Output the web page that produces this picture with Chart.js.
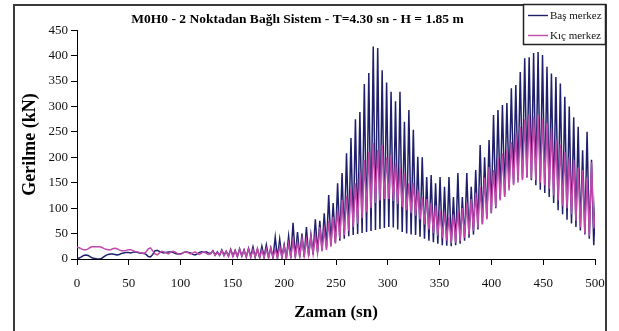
<!DOCTYPE html>
<html lang="tr">
<head>
  <meta charset="UTF-8">
  <title>M0H0 - 2 Noktadan Bağlı Sistem</title>
  <script src="https://cdn.jsdelivr.net/npm/chart.js"></script>
  <style>
    html, body { margin: 0; padding: 0; background: #fff; }
    #wrap { position: relative; width: 619px; height: 331px; }
  </style>
</head>
<body>
  <div id="wrap"><canvas id="gerilme" width="619" height="331"></canvas></div>

  <script>
    // one sample at every trough / crest, T = 4.30 sn -> half period 2.15 sn
    const halfPeriod = 2.15;

    // Baş merkez (kN)
    const basMerkez = [
      0, 2, 4, 7, 8, 7, 4, 2, 1, 0,
      0, 1, 4, 7, 9, 10, 10, 9, 8, 9,
      11, 12, 13, 13, 12, 13, 14, 13, 12, 12,
      11, 9, 5, 4, 9, 16, 17, 15, 13, 12,
      13, 14, 14, 13, 11, 10, 10, 11, 13, 14,
      13, 12, 9, 8, 10, 13, 14, 13, 14, 12,
      11, 16, 8, 14, 7, 18, 8, 15, 6, 19,
      6, 17, 5, 20, 6, 18, 4, 21, 5, 24,
      4, 19, 3, 25, 4, 28, 3, 22, 2, 43,
      2, 39, 3, 28, 1, 45, 2, 71, 3, 53,
      4, 50, 4, 63, 6, 48, 9, 78, 14, 75,
      18, 90, 22, 126, 27, 110, 31, 149, 36, 169,
      40, 208, 45, 238, 47, 275, 49, 289, 51, 344,
      53, 366, 55, 418, 57, 415, 59, 371, 61, 347,
      63, 329, 62, 310, 58, 329, 53, 270, 50, 293,
      48, 254, 47, 201, 44, 200, 40, 161, 36, 165,
      33, 149, 30, 161, 27, 142, 26, 161, 25, 122,
      27, 169, 30, 122, 36, 169, 42, 142, 48, 175,
      58, 224, 70, 200, 80, 234, 90, 283, 100, 293,
      118, 303, 125, 307, 140, 336, 148, 342, 155, 368,
      158, 395, 161, 397, 155, 405, 145, 407, 136, 401,
      130, 378, 122, 365, 110, 358, 96, 345, 88, 319,
      77, 300, 70, 279, 63, 260, 56, 214, 48, 250,
      40, 195, 27, 140
    ];

    // Kıç merkez (kN)
    const kicMerkez = [
      23, 22, 20, 18, 18, 20, 23, 24, 24, 24,
      24, 23, 21, 19, 18, 18, 20, 21, 20, 18,
      16, 16, 17, 18, 18, 17, 15, 14, 13, 12,
      11, 14, 20, 22, 16, 10, 8, 12, 15, 14,
      12, 10, 13, 15, 14, 11, 9, 10, 13, 14,
      12, 10, 12, 14, 11, 9, 12, 14, 11, 9,
      10, 16, 7, 13, 8, 17, 6, 15, 5, 18,
      5, 16, 4, 19, 5, 17, 4, 20, 3, 18,
      4, 21, 3, 17, 3, 20, 2, 22, 3, 19,
      2, 24, 3, 26, 2, 30, 3, 37, 3, 33,
      4, 40, 6, 38, 8, 44, 10, 47, 12, 63,
      15, 58, 18, 75, 24, 83, 31, 97, 40, 116,
      47, 125, 55, 140, 63, 149, 70, 170, 80, 195,
      92, 210, 100, 228, 110, 215, 115, 224, 118, 200,
      118, 205, 114, 188, 108, 180, 102, 169, 96, 149,
      90, 150, 85, 136, 78, 122, 68, 118, 58, 110,
      51, 105, 46, 96, 41, 92, 36, 83, 31, 88,
      32, 96, 35, 100, 42, 110, 48, 118, 55, 130,
      62, 142, 68, 160, 78, 181, 90, 175, 102, 200,
      115, 208, 122, 215, 135, 230, 145, 247, 150, 260,
      155, 275, 160, 283, 158, 280, 155, 283, 150, 276,
      145, 267, 138, 255, 125, 234, 115, 225, 105, 210,
      100, 200, 88, 195, 75, 180, 62, 175, 50, 160,
      45, 190, 60, 100
    ];

    const xTicks = [0, 50, 100, 150, 200, 250, 300, 350, 400, 450, 500];
    const yTicks = [0, 50, 100, 150, 200, 250, 300, 350, 400, 450];

    const toPoints = arr => arr.map((v, i) => ({ x: i * halfPeriod, y: v }));

    const serif = '"Liberation Serif", "Times New Roman", serif';

    // outer frame of the chart object
    const frame = {
      id: 'frame',
      beforeDraw(chart) {
        const c = chart.ctx;
        c.save();
        c.fillStyle = '#fff';
        c.fillRect(0, 0, chart.width, chart.height);
        c.strokeStyle = '#3a3a3a';
        c.lineWidth = 2;
        c.strokeRect(14, 5, 592, 327);
        c.restore();
      }
    };

    // boxed legend in the top right corner
    const legendBox = {
      id: 'legendBox',
      afterDraw(chart) {
        const c = chart.ctx;
        c.save();
        c.fillStyle = '#fff';
        c.fillRect(523, 5, 82, 39);
        c.strokeStyle = '#222';
        c.lineWidth = 1.5;
        c.strokeRect(523.5, 4.5, 82, 40);
        chart.data.datasets.forEach((ds, k) => {
          const y = 15 + k * 20;
          c.strokeStyle = ds.borderColor;
          c.lineWidth = 1.4;
          c.beginPath();
          c.moveTo(528, y + 0.5);
          c.lineTo(548, y + 0.5);
          c.stroke();
          c.fillStyle = '#111';
          c.font = '11px ' + serif;
          c.textBaseline = 'middle';
          c.fillText(ds.label, 550, y + 1);
        });
        c.restore();
      }
    };

    const ctx = document.getElementById('gerilme').getContext('2d');
    new Chart(ctx, {
      type: 'line',
      data: {
        datasets: [{
          label: 'Baş merkez',
          data: toPoints(basMerkez),
          borderColor: '#1f1f6c',
          borderWidth: 1.5,
          pointRadius: 0,
          tension: 0,
          order: 1
        },
        {
          label: 'Kıç merkez',
          data: toPoints(kicMerkez),
          borderColor: '#c04aac',
          borderWidth: 1.5,
          pointRadius: 0,
          tension: 0,
          order: 0
        }]
      },
      options: {
        responsive: false,
        animation: false,
        events: [],
        layout: { padding: { left: 0, right: 24, top: 0, bottom: 0 } },
        plugins: {
          legend: { display: false },
          tooltip: { enabled: false },
          title: {
            display: true,
            text: 'M0H0 - 2 Noktadan Bağlı Sistem - T=4.30 sn - H = 1.85 m',
            color: '#000',
            font: { family: serif, size: 13.5, weight: 'bold' },
            padding: { top: 11, bottom: 3 }
          }
        },
        scales: {
          x: {
            type: 'linear',
            min: xTicks[0],
            max: xTicks[xTicks.length - 1],
            afterBuildTicks: s => { s.ticks = xTicks.map(v => ({ value: v })); },
            afterFit: s => { s.height = 72; },
            ticks: { color: '#111', font: { family: serif, size: 13 }, padding: 11, maxRotation: 0 },
            grid: { drawOnChartArea: false, drawTicks: true, tickLength: 6, color: '#000' },
            border: { display: true, color: '#000', width: 1 },
            title: {
              display: true,
              text: 'Zaman (sn)',
              color: '#000',
              font: { family: serif, size: 17, weight: 'bold' },
              padding: { top: 0, bottom: 8 }
            }
          },
          y: {
            min: yTicks[0],
            max: yTicks[yTicks.length - 1],
            afterBuildTicks: s => { s.ticks = yTicks.map(v => ({ value: v })); },
            afterFit: s => { s.width = 77; },
            ticks: { color: '#111', font: { family: serif, size: 13 }, padding: 3 },
            grid: { drawOnChartArea: false, drawTicks: true, tickLength: 6, color: '#000' },
            border: { display: true, color: '#000', width: 1 },
            title: {
              display: true,
              text: 'Gerilme (kN)',
              color: '#000',
              font: { family: serif, size: 18, weight: 'bold' },
              padding: { top: 20, bottom: 0 }
            }
          }
        }
      },
      plugins: [frame, legendBox]
    });
  </script>
</body>
</html>
